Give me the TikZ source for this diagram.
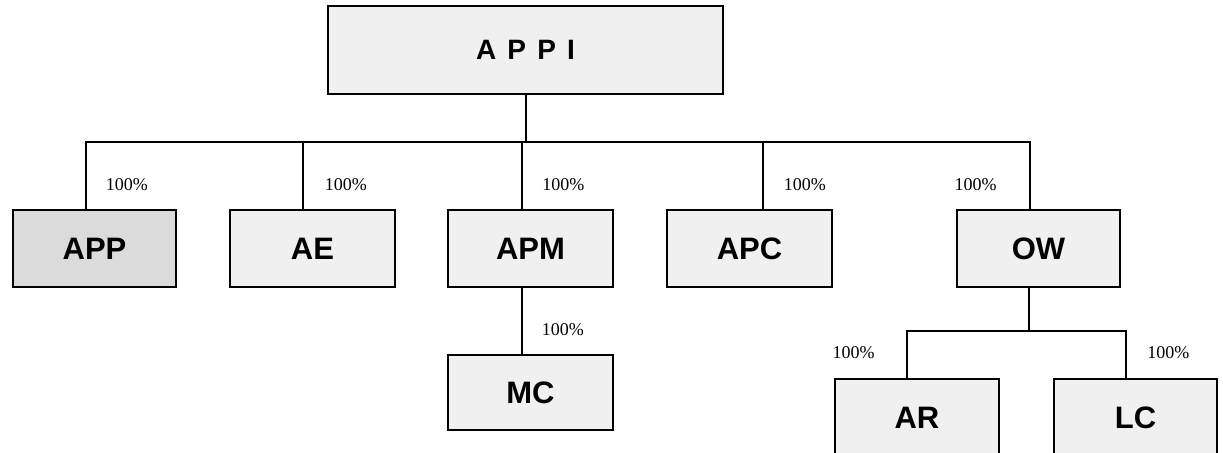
\documentclass[tikz,border=0pt]{standalone}
\usepackage{fontspec}
\setmainfont{Liberation Serif}
\setsansfont{Liberation Sans}
\usepackage{tikz}
\usetikzlibrary{calc, positioning}

\begin{document}
\begin{tikzpicture}[
  x=0.5pt, y=-0.5pt,
  unit/.style={draw, line width=1.2pt, fill=gray!12, inner sep=0pt, outer sep=0pt, minimum width=82.5pt, minimum height=38.5pt, font=\sffamily\bfseries\fontsize{15.5}{18}\selectfont},
  dark/.style={fill=gray!28},
  link/.style={line width=1pt},
  pct/.style={inner sep=0pt, font=\fontsize{9}{10}\selectfont}
]
\useasboundingbox (0,0) rectangle (1223,452);

\node[unit, minimum width=197.5pt, minimum height=44pt, font=\sffamily\bfseries\fontsize{14}{16}\selectfont\addfontfeature{LetterSpace=40}] (appi) at (525.5,50) {APPI};

\node[unit, dark, minimum width=81.5pt] (app) at (94.5,248.5) {APP};
\node[unit, right=27pt of app] (ae) {AE};
\node[unit, right=26.5pt of ae] (apm) {APM};
\node[unit, right=27pt of apm] (apc) {APC};
\node[unit, minimum width=81.5pt, right=62.5pt of apc] (ow) {OW};

\node[unit, minimum height=37.5pt, below=34pt of apm] (mc) {MC};
\node[unit, minimum width=82pt, below left=46pt and 19.75pt of ow.south] (ar) {AR};
\node[unit, minimum width=81.5pt, right=27.5pt of ar] (lc) {LC};

\draw[link] (appi.south) -- ++(0,48) coordinate (bus);
\draw[link] ([xshift=-4.25pt]app.north) |- (bus);
\draw[link] ([xshift=-4.75pt]ae.north) |- (bus);
\draw[link] ([xshift=-4.25pt]apm.north) |- (bus);
\draw[link] ([xshift=6.75pt]apc.north) |- (bus);
\draw[link] ([xshift=-4.25pt]ow.north) |- (bus);

\draw[link] ([xshift=-4.25pt]apm.south) -- ([xshift=-4.25pt]mc.north);

\draw[link] ([xshift=-4.75pt]ow.south) -- ++(0,44) coordinate (owbus);
\draw[link] ([xshift=-5pt]ar.north) |- (owbus);
\draw[link] ([xshift=-4.75pt]lc.north) |- (owbus);

\node[pct, above right=9.5pt and 5.5pt of app.north] (papp) {100\%};
\node[pct, above right=9.5pt and 6pt of ae.north] (pae) {100\%};
\node[pct, above right=9.5pt and 5.75pt of apm.north] (papm) {100\%};
\node[pct, above right=9.5pt and 17pt of apc.north] (papc) {100\%};
\node[pct, above left=9.5pt and 20.75pt of ow.north] (pow) {100\%};
\node[pct, above right=9.5pt and 5.5pt of mc.north] (pmc) {100\%};
\node[pct, above left=10pt and 21pt of ar.north] (par) {100\%};
\node[pct, above right=10pt and 5.75pt of lc.north] (plc) {100\%};

\end{tikzpicture}
\end{document}
